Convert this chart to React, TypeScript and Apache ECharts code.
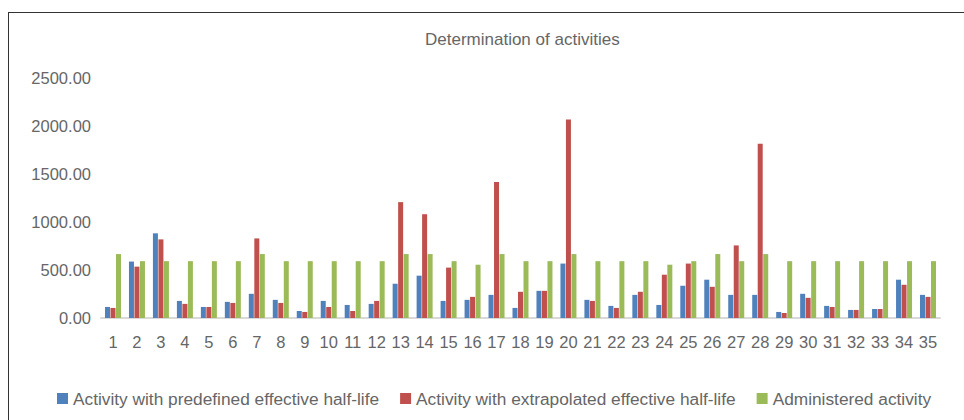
import React, { useEffect, useRef } from "react";
import * as echarts from "echarts";

const categories = Array.from({ length: 35 }, (_, i) => String(i + 1));

const predefined = [
  115, 588, 882, 178, 115, 168, 252, 189, 73, 178,
  136, 147, 357, 441, 178, 189, 241, 105, 283, 567,
  189, 126, 241, 136, 336, 399, 241, 241, 63, 252,
  126, 84, 94, 399, 241,
];

const extrapolated = [
  105, 535, 819, 147, 115, 157, 829, 157, 63, 115,
  73, 178, 1207, 1081, 525, 220, 1417, 273, 283, 2068,
  178, 105, 273, 451, 567, 325, 756, 1816, 52, 210,
  115, 84, 94, 346, 220,
];

const administered = [
  666, 592, 592, 592, 592, 592, 666, 592, 592, 592,
  592, 592, 666, 666, 592, 555, 666, 592, 592, 666,
  592, 592, 592, 555, 592, 666, 592, 666, 592, 592,
  592, 592, 592, 592, 592,
];

const seriesNames = [
  "Activity with predefined effective half-life",
  "Activity with extrapolated effective half-life",
  "Administered activity",
];

const colors = ["#4F81BD", "#C0504D", "#9BBB59"];
const FONT = "'Liberation Sans', Arial, sans-serif";
const TEXT = "#666666";

export default function App() {
  const ref = useRef<HTMLDivElement>(null);
  useEffect(() => {
    if (!ref.current) return;
    const chart = echarts.init(ref.current, null, { renderer: "svg" });
    const data = [predefined, extrapolated, administered];
    chart.setOption({
      animation: false,
      backgroundColor: "#ffffff",
      color: colors,
      textStyle: { fontFamily: FONT },
      title: {
        text: "Determination of activities",
        left: 425,
        top: 31,
        padding: 0,
        textStyle: { fontSize: 17, fontWeight: "normal", color: TEXT, fontFamily: FONT },
      },
      legend: {
        left: 57,
        top: 390,
        padding: 0,
        itemWidth: 11,
        itemHeight: 11,
        itemGap: 21,
        icon: "rect",
        textStyle: { fontSize: 17.3, color: TEXT, fontFamily: FONT },
        data: seriesNames,
      },
      grid: { left: 101, right: 24, top: 78, bottom: 102, containLabel: false },
      xAxis: {
        type: "category",
        data: categories,
        axisLine: { lineStyle: { color: "#d9d9d9", width: 2 } },
        axisTick: { show: false },
        axisLabel: { fontSize: 16.5, color: TEXT, margin: 15, interval: 0, fontFamily: FONT },
      },
      yAxis: {
        type: "value",
        min: 0,
        max: 2500,
        interval: 500,
        splitLine: { show: false },
        axisLine: { show: false },
        axisTick: { show: false },
        axisLabel: {
          fontSize: 16.5,
          color: TEXT,
          margin: 10,
          fontFamily: FONT,
          formatter: (v: number) => v.toFixed(2),
        },
      },
      graphic: [
        { type: "line", shape: { x1: 8, y1: 12.5, x2: 964, y2: 12.5 }, style: { stroke: "#333", lineWidth: 1 } },
        { type: "line", shape: { x1: 8.5, y1: 12, x2: 8.5, y2: 420 }, style: { stroke: "#333", lineWidth: 1 } },
      ],
      series: seriesNames.map((name, i) => ({
        name,
        type: "bar",
        data: data[i],
        barWidth: 5,
        barGap: "10%",
        itemStyle: { color: colors[i] },
      })),
    });
    return () => chart.dispose();
  }, []);
  return (
    <div
      ref={ref}
      style={{ position: "fixed", left: 0, top: 0, width: 964, height: 420 }}
    />
  );
}
